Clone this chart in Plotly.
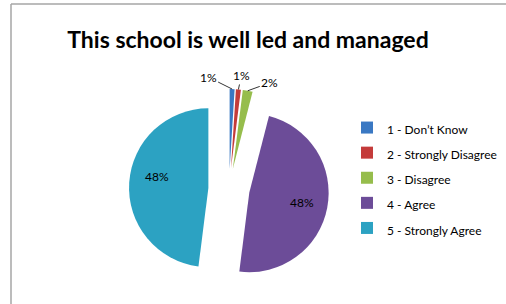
import math
import plotly.graph_objects as go

categories = ["1 - Don\u2019t Know", "2 - Strongly Disagree", "3 - Disagree", "4 - Agree", "5 - Strongly Agree"]
values = [1, 1, 2, 48, 48]
colors = ["#3a78c3", "#c43b3a", "#96bd4c", "#6c4c98", "#2ca2c2"]
title_text = "This school is well led and managed"

W, H = 506, 304
PULL = 0.26
# pie box (pixels): centre and size
CX, CY, BOX = 229, 189, 200

legend_labels = [f"<span style='font-size:12px'>{c}</span>" for c in categories]

fig = go.Figure(
    go.Pie(
        labels=legend_labels,
        values=values,
        sort=False,
        direction="clockwise",
        rotation=0,
        pull=PULL,
        marker=dict(colors=colors, line=dict(width=0)),
        textinfo="none",
        domain=dict(x=[(CX - BOX / 2) / W, (CX + BOX / 2) / W],
                    y=[1 - (CY + BOX / 2) / H, 1 - (CY - BOX / 2) / H]),
        hoverinfo="label+percent",
    )
)

# percentage labels placed from the data (slice mid-angles)
total = sum(values)
R = BOX / 2 / (1 + PULL)
D = PULL * R
small_offsets = {0: (-24, -12), 1: (3, -14), 2: (22, -8)}
big_shift = {3: (0, -9), 4: (-12, 8)}
annotations = []
cum = 0.0
for i, v in enumerate(values):
    f = v / total
    m = (cum + f / 2) * 2 * math.pi
    cum += f
    ux, uy = math.sin(m), -math.cos(m)
    vx, vy = CX + D * ux, CY + D * uy
    txt = f"{round(100 * f)}%"
    if i in small_offsets:
        tx, ty = vx + R * ux, vy + R * uy
        ax, ay = small_offsets[i]
        annotations.append(dict(
            x=tx / W, y=1 - ty / H, xref="paper", yref="paper", text=txt,
            showarrow=True, ax=ax, ay=ay, arrowhead=0, arrowwidth=0.8,
            arrowcolor="#000000", standoff=0,
            font=dict(family="Lato", size=12, color="#000000"),
        ))
    else:
        px, py = vx + 0.68 * R * ux, vy + 0.68 * R * uy
        sx, sy = big_shift[i]
        annotations.append(dict(
            x=px / W, y=1 - py / H, xref="paper", yref="paper", text=txt,
            showarrow=False, xshift=sx, yshift=sy,
            font=dict(family="Lato", size=12, color="#000000"),
        ))

fig.update_layout(
    width=W,
    height=H,
    margin=dict(l=0, r=0, t=0, b=0),
    paper_bgcolor="white",
    plot_bgcolor="white",
    font=dict(family="Lato", color="#000000"),
    title=dict(
        text=f"<b>{title_text}</b>",
        font=dict(family="Lato", size=23, color="#000000"),
        x=248 / W,
        xanchor="center",
        y=1 - 40 / H,
        yanchor="middle",
        yref="container",
        xref="container",
    ),
    legend=dict(
        x=347 / W,
        y=1 - 110 / H,
        xanchor="left",
        yanchor="top",
        font=dict(family="Lato", size=17, color="#000000"),
        bgcolor="rgba(0,0,0,0)",
    ),
    annotations=annotations,
    shapes=[
        dict(type="line", xref="paper", yref="paper", x0=11 / W, x1=1, y0=1 - 4 / H, y1=1 - 4 / H,
             line=dict(color="#a6a6a6", width=1.5)),
        dict(type="line", xref="paper", yref="paper", x0=11 / W, x1=11 / W, y0=0, y1=1 - 4 / H,
             line=dict(color="#a6a6a6", width=1.5)),
    ],
)

fig.write_html("out.html", config={"displayModeBar": False},
               post_script="document.body.style.margin='0';")
